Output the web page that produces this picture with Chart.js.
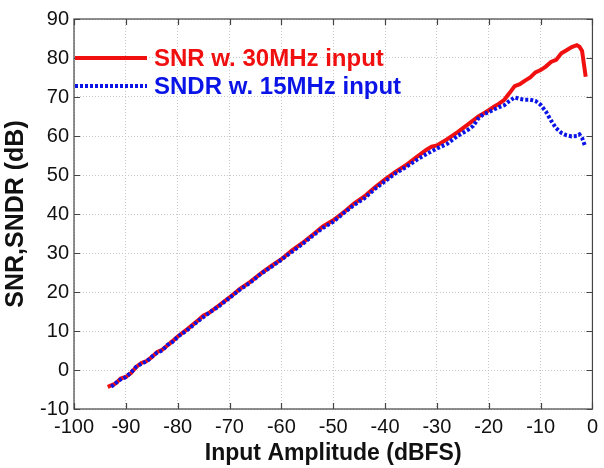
<!DOCTYPE html>
<html>
<head>
<meta charset="utf-8">
<script src="https://cdn.jsdelivr.net/npm/chart.js@4/dist/chart.umd.min.js"></script>
<style>
  html, body { margin: 0; padding: 0; background: #fff; }
  #wrap { width: 604px; height: 468px; }
</style>
</head>
<body>
<div id="wrap"><canvas id="myChart" width="604" height="468"></canvas></div>
<script>
// SNR w. 30MHz input
const snrX = [-93.5,-92,-91,-90,-89,-88,-87,-86,-85,-84,-83,-82,-81,-80,-78,-76,-75,-74,-72,-70,-68,-66,-64,-62,-60,-58,-56,-54,-52,-50,-48,-46,-44,-42,-40,-38,-36,-34,-32,-31,-30,-28,-26,-24,-22,-21,-20,-19,-18,-17,-16,-15,-14,-13,-12,-11,-10,-9,-8,-7,-6,-5,-4,-3,-2.5,-2,-1.3];
const snrY = [-4.3,-3.5,-2.2,-1.8,-0.8,0.8,1.8,2.3,3.3,4.6,5.2,6.3,7.4,8.6,10.6,12.8,14.0,14.6,16.6,18.6,20.8,22.6,24.7,26.6,28.4,30.6,32.5,34.6,36.8,38.4,40.4,42.7,44.5,46.8,48.9,50.8,52.5,54.5,56.5,57.3,57.6,59.2,61.0,63.0,65.0,65.8,66.6,67.5,68.3,69.3,71.0,72.8,73.3,74.2,75.0,76.3,76.9,77.8,79.0,79.5,81.2,82.0,82.8,83.3,82.9,81.8,75.2];

// SNDR w. 15MHz input
const sndrX = [-92.8,-92,-91,-90,-89,-88,-87,-86,-85,-84,-83,-82,-81,-80,-78,-76,-75,-74,-72,-70,-68,-66,-64,-62,-60,-58,-56,-54,-52,-50,-48,-46,-44,-42,-40,-38,-36,-34,-32,-30,-28,-26,-24,-23,-22,-21,-20,-19,-18,-17,-16,-15,-14,-13,-12,-11,-10,-9,-8,-7,-6,-5,-4,-3,-2.5,-2,-1.5];
const sndrY = [-4.3,-3.4,-2.4,-1.8,-0.6,0.8,1.6,2.2,3.4,4.4,5.0,6.4,7.2,8.5,10.4,12.6,13.6,14.6,16.4,18.5,20.6,22.4,24.6,26.4,28.3,30.3,32.2,34.4,36.4,38.0,40.2,42.3,44.0,46.4,48.4,50.4,52.0,53.8,55.4,56.8,58.0,60.0,61.6,62.6,64.5,65.6,66.1,66.8,67.4,67.9,69.0,69.9,69.5,69.3,69.3,69.0,68.0,66.3,64.0,62.0,60.8,60.2,59.9,60.0,60.4,59.5,57.7];

const seriesLabels = ['SNR w. 30MHz input', 'SNDR w. 15MHz input'];
const xTicks = [-100,-90,-80,-70,-60,-50,-40,-30,-20,-10,0];
const yTicks = [-10,0,10,20,30,40,50,60,70,80,90];

function pts(xs, ys) { return xs.map((x, i) => ({ x: x, y: ys[i] })); }

const FONT = "'Liberation Sans', Arial, sans-serif";

// box + inward tick marks + legend inside the plot
const boxPlugin = {
    id: 'boxPlugin',
    afterDraw(chart) {
        const c = chart.ctx, a = chart.chartArea;
        const xs = chart.scales.x, ys = chart.scales.y;
        c.save();
        c.strokeStyle = '#444';
        c.lineWidth = 1.2;
        c.strokeRect(a.left, a.top, a.right - a.left, a.bottom - a.top);
        c.beginPath();
        xTicks.forEach(v => {
            const px = Math.round(xs.getPixelForValue(v)) + 0.5;
            c.moveTo(px, a.bottom); c.lineTo(px, a.bottom - 6);
            c.moveTo(px, a.top); c.lineTo(px, a.top + 6);
        });
        yTicks.forEach(v => {
            const py = Math.round(ys.getPixelForValue(v)) + 0.5;
            c.moveTo(a.left, py); c.lineTo(a.left + 6, py);
            c.moveTo(a.right, py); c.lineTo(a.right - 6, py);
        });
        c.stroke();

        // legend
        const ds = chart.data.datasets;
        const rows = [{ d: ds[1], y: 58 }, { d: ds[0], y: 86 }];
        rows.forEach(r => {
            c.beginPath();
            c.strokeStyle = r.d.borderColor;
            c.lineWidth = r.d.borderWidth;
            c.setLineDash(r.d.borderDash || []);
            c.moveTo(a.left + 1, r.y); c.lineTo(a.left + 73, r.y);
            c.stroke();
            c.setLineDash([]);
            c.fillStyle = r.d.borderColor;
            c.font = "bold 24px " + FONT;
            c.textBaseline = 'middle';
            c.fillText(r.d.label, a.left + 80, r.y + 1);
        });
        c.restore();
    }
};

const ctx = document.getElementById('myChart').getContext('2d');
const myChart = new Chart(ctx, {
    type: 'line',
    data: {
        datasets: [
            {
                label: seriesLabels[1],
                data: pts(sndrX, sndrY),
                borderColor: '#0a14e6',
                borderWidth: 4,
                borderDash: [3, 2],
                pointRadius: 0,
                tension: 0,
                order: 0
            },
            {
                label: seriesLabels[0],
                data: pts(snrX, snrY),
                borderColor: '#f01010',
                borderWidth: 4,
                pointRadius: 0,
                tension: 0,
                order: 1
            }
        ]
    },
    options: {
        responsive: false,
        animation: false,
        layout: { padding: { top: 19, right: 6, left: 0, bottom: 0 } },
        plugins: { legend: { display: false }, tooltip: { enabled: false } },
        scales: {
            x: {
                type: 'linear',
                min: -100, max: 0,
                afterBuildTicks(s) { s.ticks = xTicks.map(v => ({ value: v })); },
                afterFit(s) { s.height = 59; },
                grid: { color: '#c8c8c8', lineWidth: 1, drawTicks: false },
                border: { display: false, dash: [1, 2] },
                ticks: { color: '#111', font: { family: FONT, size: 20 }, padding: 6, maxRotation: 0 },
                title: { display: true, text: 'Input Amplitude (dBFS)', color: '#111',
                         font: { family: FONT, size: 23, weight: 'bold' }, padding: { top: 0, bottom: 1 } }
            },
            y: {
                min: -10, max: 90,
                afterBuildTicks(s) { s.ticks = yTicks.map(v => ({ value: v })); },
                afterFit(s) { s.width = 74; },
                grid: { color: '#c8c8c8', lineWidth: 1, drawTicks: false },
                border: { display: false, dash: [1, 2] },
                ticks: { color: '#111', font: { family: FONT, size: 20 }, padding: 5 },
                title: { display: true, text: 'SNR,SNDR (dB)', color: '#111',
                         font: { family: FONT, size: 25, weight: 'bold' }, padding: { top: 1, bottom: 0 } }
            }
        }
    },
    plugins: [boxPlugin]
});
</script>
</body>
</html>
